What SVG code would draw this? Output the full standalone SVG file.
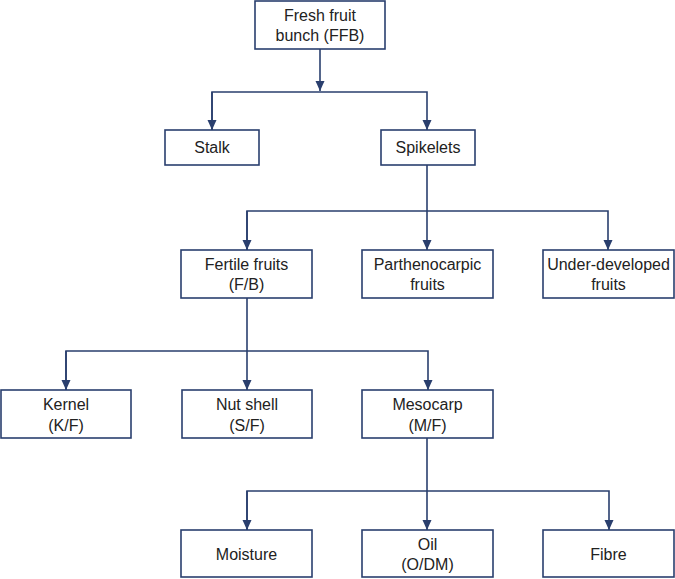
<svg xmlns="http://www.w3.org/2000/svg" width="675" height="579" viewBox="0 0 675 579">
<style>
.box{fill:#fff;stroke:#2a3f6e;stroke-width:1.6}
.t{font-family:"Liberation Sans",Arial,sans-serif;font-size:16px;fill:#222;text-anchor:middle}
.c{fill:none;stroke:#2a3f6e;stroke-width:1.6}
</style>
<defs>
<marker id="ah" markerUnits="userSpaceOnUse" markerWidth="10" markerHeight="10" refX="10" refY="5" orient="auto">
<path d="M0,0.5 L10,5 L0,9.5 z" fill="#2a3f6e"/>
</marker>
</defs>
<rect width="675" height="579" fill="#fff"/>
<g id="connectors">
<path class="c" d="M320,49 V91" marker-end="url(#ah)"/>
<path class="c" d="M212,130 V92 H427 V130" marker-end="url(#ah)"/>
<path class="c" d="M212,92 V130" marker-end="url(#ah)"/>
<path class="c" d="M427,165 V250" marker-end="url(#ah)"/>
<path class="c" d="M247,250 V211 H608 V250" marker-end="url(#ah)"/>
<path class="c" d="M247,211 V250" marker-end="url(#ah)"/>
<path class="c" d="M247,298 V390" marker-end="url(#ah)"/>
<path class="c" d="M66,390 V351 H428 V390" marker-end="url(#ah)"/>
<path class="c" d="M66,351 V390" marker-end="url(#ah)"/>
<path class="c" d="M427,438 V530" marker-end="url(#ah)"/>
<path class="c" d="M247,530 V491 H609 V530" marker-end="url(#ah)"/>
<path class="c" d="M247,491 V530" marker-end="url(#ah)"/>
</g>
<g id="ffb"><rect class="box" x="255" y="1" width="130" height="48"/><text class="t" x="320" y="21">Fresh fruit</text><text class="t" x="320" y="41">bunch (FFB)</text></g>
<g id="stalk"><rect class="box" x="165" y="130" width="94" height="35"/><text class="t" x="212" y="153">Stalk</text></g>
<g id="spikelets"><rect class="box" x="381" y="130" width="94" height="35"/><text class="t" x="428" y="153">Spikelets</text></g>
<g id="fertile"><rect class="box" x="181" y="250" width="131" height="48"/><text class="t" x="246.5" y="270">Fertile fruits</text><text class="t" x="246.5" y="290">(F/B)</text></g>
<g id="parthenocarpic"><rect class="box" x="362" y="250" width="131" height="48"/><text class="t" x="427.5" y="270">Parthenocarpic</text><text class="t" x="427.5" y="290">fruits</text></g>
<g id="underdeveloped"><rect class="box" x="543" y="250" width="131" height="48"/><text class="t" x="608.5" y="270">Under-developed</text><text class="t" x="608.5" y="290">fruits</text></g>
<g id="kernel"><rect class="box" x="1" y="390" width="130" height="48"/><text class="t" x="66" y="410">Kernel</text><text class="t" x="66" y="431">(K/F)</text></g>
<g id="nutshell"><rect class="box" x="182" y="390" width="130" height="48"/><text class="t" x="247" y="410">Nut shell</text><text class="t" x="247" y="431">(S/F)</text></g>
<g id="mesocarp"><rect class="box" x="362" y="390" width="131" height="48"/><text class="t" x="427.5" y="410">Mesocarp</text><text class="t" x="427.5" y="431">(M/F)</text></g>
<g id="moisture"><rect class="box" x="181" y="530" width="131" height="47"/><text class="t" x="246.5" y="560">Moisture</text></g>
<g id="oil"><rect class="box" x="362" y="530" width="131" height="47"/><text class="t" x="427.5" y="550">Oil</text><text class="t" x="427.5" y="570">(O/DM)</text></g>
<g id="fibre"><rect class="box" x="543" y="530" width="131" height="47"/><text class="t" x="608.5" y="560">Fibre</text></g>
</svg>
